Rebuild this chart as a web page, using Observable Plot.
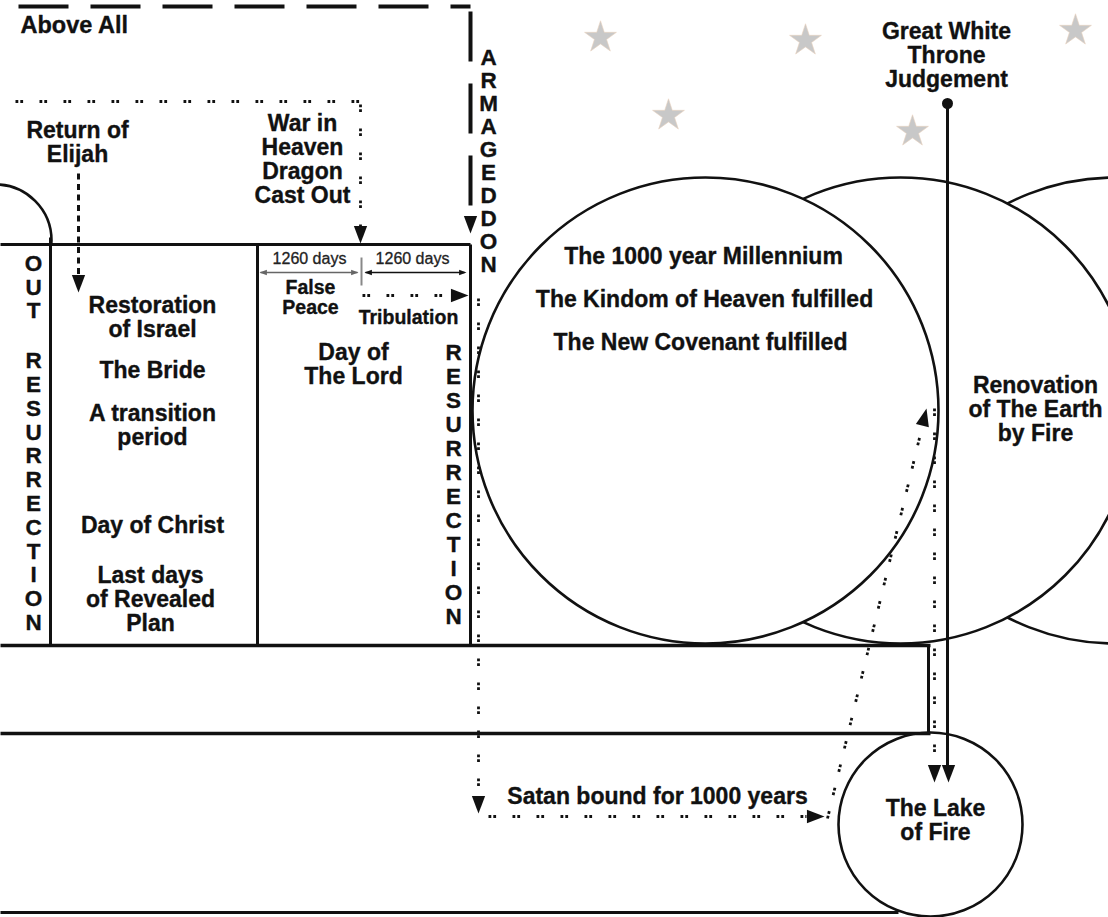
<!DOCTYPE html>
<html><head><meta charset="utf-8">
<script src="https://cdn.jsdelivr.net/npm/d3@7"></script>
<script src="https://cdn.jsdelivr.net/npm/@observablehq/plot@0.6"></script>
<style>
html,body{margin:0;padding:0;background:#fff;}
#chart svg{display:block}
</style></head><body><div id="chart"></div>
<script>
const W = 1108, H = 917;

// ---- diagram data (diagram units) ----
const stars = [{x:600,y:37},{x:805,y:40},{x:668,y:115},{x:912,y:131},{x:1075,y:30}];

const ageCircles = [
  {name:"Eternity",   cx:1114, cy:410, r:233},
  {name:"Renovation", cx:900,  cy:410, r:233},
  {name:"Millennium", cx:705,  cy:410, r:233}
];
const lakeCircle = [{name:"The Lake of Fire", cx:930, cy:824, r:92}];
const priorAge = [{name:"Prior age", cx:-5, cy:240, r:56}];
const boxArea = [{x1:0, x2:470, y1:244, y2:645}];

const boxLines = [
  {x1:0,   y1:244, x2:470, y2:244},
  {x1:50,  y1:237, x2:50,  y2:645},
  {x1:257, y1:244, x2:257, y2:645},
  {x1:470, y1:244, x2:470, y2:645},
  {x1:928, y1:645, x2:928, y2:733},
  {x1:0,   y1:912, x2:898, y2:912}
];
const groundLines = [
  {x1:0, y1:645, x2:930, y2:645},
  {x1:0, y1:733, x2:930, y2:733}
];
const throneLine = [{x1:947, y1:103, x2:947, y2:770}];
const throneDot = [{x:947, y:103}];

const periodGrey = [{x1:260, y1:272, x2:357, y2:272}];
const periodBlack = [{x1:365, y1:272, x2:464, y2:272}];
const periodTick = [{x1:361, y1:257, x2:361, y2:285}];

const longDashed = [
  {x1:18,  y1:6,  x2:470, y2:6},
  {x1:470, y1:11, x2:470, y2:205}
];
const shortDashed = [{x1:78, y1:173, x2:78, y2:276}];
const dotted = [
  {x1:15,  y1:101, x2:362, y2:101},
  {x1:360, y1:104, x2:360, y2:228},
  {x1:362, y1:295, x2:452, y2:295},
  {x1:478, y1:298, x2:478, y2:798},
  {x1:488, y1:816, x2:806, y2:816},
  {x1:827, y1:818, x2:922, y2:425},
  {x1:934, y1:408, x2:934, y2:764}
];

// arrow tips with heading (degrees, 0 = pointing down, clockwise)
const bigHeads = [
  {x:470, y:233, angle:0},
  {x:360, y:243, angle:0},
  {x:78,  y:292, angle:0},
  {x:468, y:295, angle:-90},
  {x:478, y:813, angle:0},
  {x:824, y:816, angle:-90},
  {x:926, y:408, angle:-166.4},
  {x:934, y:782, angle:0},
  {x:948, y:782, angle:0}
];
const smallHeadsGrey = [{x:259, y:272, angle:90}, {x:358, y:272, angle:-90}];
const smallHeadsBlack = [{x:364, y:272, angle:90}, {x:466, y:272, angle:-90}];

const labels = [
  {text:"Return of\nElijah", x:77, y:141.5},
  {text:"War in\nHeaven\nDragon\nCast Out", x:302, y:159},
  {text:"Restoration\nof Israel", x:152, y:316.5},
  {text:"The Bride", x:152, y:370},
  {text:"A transition\nperiod", x:152, y:424.5},
  {text:"Day of Christ", x:152, y:525},
  {text:"Last days\nof Revealed\nPlan", x:150, y:598.5},
  {text:"Day of\nThe Lord", x:353, y:364},
  {text:"Great White\nThrone\nJudgement", x:946, y:55},
  {text:"The 1000 year Millennium", x:703, y:256},
  {text:"The Kindom of Heaven fulfilled", x:704, y:299},
  {text:"The New Covenant fulfilled", x:700, y:342},
  {text:"Renovation\nof The Earth\nby Fire", x:1035, y:409},
  {text:"The Lake\nof Fire", x:935, y:820},
  {text:"Satan bound for 1000 years", x:657, y:796}
];
const leftLabels = [{text:"Above All", x:20, y:25}];
const smallBold = [
  {text:"False\nPeace", x:310, y:297},
  {text:"Tribulation", x:408, y:317}
];
const dayLabels = [{text:"1260 days", x:309, y:258}, {text:"1260 days", x:412, y:258}];

const stackOut = [{text:"O\nU\nT", x:33, y:286.5}];
const stackLeft = [{text:"R\nE\nS\nU\nR\nR\nE\nC\nT\nI\nO\nN", x:33, y:491}];
const stackRight = [{text:"R\nE\nS\nU\nR\nR\nE\nC\nT\nI\nO\nN", x:453, y:484}];
const stackArm = [{text:"A\nR\nM\nA\nG\nE\nD\nD\nO\nN", x:488, y:160.5}];

// ---- helpers ----
function arrowSymbol(angle) {
  const t = angle * Math.PI / 180, c = Math.cos(t), s = Math.sin(t);
  const rot = (x, y) => [x * c - y * s, x * s + y * c];
  return {
    draw(context, size) {
      const r = Math.sqrt(size / Math.PI);
      const hw = 0.7 * r, len = 1.85 * r;
      const p0 = rot(0, 0), p1 = rot(-hw, -len), p2 = rot(hw, -len);
      context.moveTo(p0[0], p0[1]);
      context.lineTo(p1[0], p1[1]);
      context.lineTo(p2[0], p2[1]);
      context.closePath();
    }
  };
}
const heads = (arr, r, fill) => arr.map(a => Plot.dot([a], {x:"x", y:"y", r, symbol: arrowSymbol(a.angle), fill, stroke:"none"}));
const seg = {x1:"x1", y1:"y1", x2:"x2", y2:"y2"};
const FONT = "Liberation Sans, Arial, Helvetica, sans-serif";
const INK = "#111";
const bold = {fontWeight:"bold", fontFamily:FONT, fill:INK, stroke:INK, strokeWidth:0.35};

const plot = Plot.plot({
  width: W, height: H, margin: 0,
  x: {domain:[0, W], range:[0, W], axis: null},
  y: {domain:[0, H], range:[0, H], axis: null},
  r: {type:"linear", domain:[0, 300], range:[0, 300]},
  style: {background:"#fff"},
  marks: [
    Plot.dot(stars, {x:"x", y:"y", r:10, symbol:"star", fill:"#c8c8c8", stroke:"#e9d2bd", strokeWidth:0.6}),
    Plot.dot(priorAge, {x:"cx", y:"cy", r:"r", fill:"none", stroke:INK, strokeWidth:2.6}),
    Plot.rect(boxArea, {x1:"x1", x2:"x2", y1:"y1", y2:"y2", fill:"#fff"}),
    Plot.dot(ageCircles, {x:"cx", y:"cy", r:"r", fill:"#fff", stroke:INK, strokeWidth:2.6}),
    Plot.dot(lakeCircle, {x:"cx", y:"cy", r:"r", fill:"#fff", stroke:INK, strokeWidth:2.6}),
    Plot.link(boxLines, {...seg, stroke:INK, strokeWidth:3}),
    Plot.link(groundLines, {...seg, stroke:INK, strokeWidth:3.6}),
    Plot.link(throneLine, {...seg, stroke:INK, strokeWidth:3}),
    Plot.dot(throneDot, {x:"x", y:"y", r:5.5, fill:INK}),
    Plot.link(periodGrey, {...seg, stroke:"#666", strokeWidth:1.6}),
    Plot.link(periodBlack, {...seg, stroke:INK, strokeWidth:1.6}),
    Plot.link(periodTick, {...seg, stroke:"#888", strokeWidth:2}),
    Plot.link(longDashed, {...seg, stroke:INK, strokeWidth:4, strokeDasharray:"50,22"}),
    Plot.link(shortDashed, {...seg, stroke:INK, strokeWidth:3, strokeDasharray:"6,4.5"}),
    Plot.link(dotted, {...seg, stroke:INK, strokeWidth:2.8, strokeDasharray:"2.8,2,2.8,16.4"}),
    ...heads(bigHeads, 9.5, INK),
    ...heads(smallHeadsGrey, 4, "#666"),
    ...heads(smallHeadsBlack, 4, INK),
    Plot.text(labels, {x:"x", y:"y", text:"text", fontSize:23, lineHeight:24/23, ...bold}),
    Plot.text(leftLabels, {x:"x", y:"y", text:"text", fontSize:23.5, textAnchor:"start", ...bold}),
    Plot.text(smallBold, {x:"x", y:"y", text:"text", fontSize:19.5, lineHeight:20/19.5, ...bold}),
    Plot.text(dayLabels, {x:"x", y:"y", text:"text", fontSize:16, fontFamily:FONT, fill:"#222", stroke:"#222", strokeWidth:0.3}),
    Plot.text(stackOut, {x:"x", y:"y", text:"text", fontSize:22.5, lineHeight:23.5/22.5, ...bold}),
    Plot.text(stackLeft, {x:"x", y:"y", text:"text", fontSize:22.5, lineHeight:23.8/22.5, ...bold}),
    Plot.text(stackRight, {x:"x", y:"y", text:"text", fontSize:22.5, lineHeight:24/22.5, ...bold}),
    Plot.text(stackArm, {x:"x", y:"y", text:"text", fontSize:22.5, lineHeight:23/22.5, ...bold})
  ]
});
document.getElementById("chart").appendChild(plot);
</script>
</body></html>
